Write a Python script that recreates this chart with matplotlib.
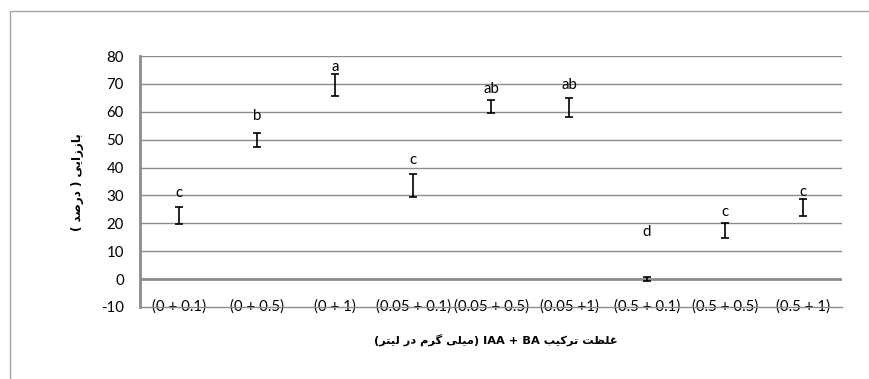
import re
import numpy as np
import matplotlib
matplotlib.use("Agg")
import matplotlib.pyplot as plt
from matplotlib.patches import Rectangle

# Treatments: IAA + BA concentration (mg/l)
treatments = ["(0 + 0.1)", "(0 + 0.5)", "(0 + 1)", "(0.05 + 0.1)", "(0.05 + 0.5)",
              "(0.05 +1)", "(0.5 + 0.1)", "(0.5 + 0.5)", "(0.5 + 1)"]
# Regeneration (%) mean and standard error
regen_mean = [22.8, 49.9, 69.6, 33.6, 61.9, 61.7, 0.1, 17.5, 25.7]
regen_err = [2.9, 2.5, 3.8, 4.2, 2.4, 3.4, 0.7, 2.6, 3.0]
# Duncan groups and where they were placed
groups = ["c", "b", "a", "c", "ab", "ab", "d", "c", "c"]
group_y = [31.0, 58.6, 76.2, 42.8, 68.2, 69.6, 17.0, 23.9, 31.4]

yticks = list(range(-10, 81, 10))

# contextual forms: isolated, final, initial, medial
FORMS = {
    "ا": ("\uFE8D", "\uFE8E", "\uFE8D", "\uFE8E"),
    "ب": ("\uFE8F", "\uFE90", "\uFE91", "\uFE92"),
    "ت": ("\uFE95", "\uFE96", "\uFE97", "\uFE98"),
    "د": ("\uFEA9", "\uFEAA", "\uFEA9", "\uFEAA"),
    "ر": ("\uFEAD", "\uFEAE", "\uFEAD", "\uFEAE"),
    "ز": ("\uFEAF", "\uFEB0", "\uFEAF", "\uFEB0"),
    "ص": ("\uFEB9", "\uFEBA", "\uFEBB", "\uFEBC"),
    "ظ": ("\uFEC5", "\uFEC6", "\uFEC7", "\uFEC8"),
    "غ": ("\uFECD", "\uFECE", "\uFECF", "\uFED0"),
    "ل": ("\uFEDD", "\uFEDE", "\uFEDF", "\uFEE0"),
    "م": ("\uFEE1", "\uFEE2", "\uFEE3", "\uFEE4"),
    "ی": ("\uFBFC", "\uFBFD", "\uFBFE", "\uFBFF"),
    "ک": ("\uFB8E", "\uFB8F", "\uFB90", "\uFB91"),
    "گ": ("\uFB92", "\uFB93", "\uFB94", "\uFB95"),
}
RIGHT_ONLY = set("ادرز")


def fa(text):
    # matplotlib has no text shaping, so join letters and lay them out right to left
    out = []
    for i, ch in enumerate(text):
        if ch not in FORMS:
            out.append(ch)
            continue
        prev = text[i - 1] if i > 0 else ""
        nxt = text[i + 1] if i + 1 < len(text) else ""
        jp = prev in FORMS and prev not in RIGHT_ONLY
        jn = nxt in FORMS and ch not in RIGHT_ONLY
        f = FORMS[ch]
        out.append(f[3] if jp and jn else f[1] if jp else f[2] if jn else f[0])
    s = "".join(out)[::-1]
    s = re.sub(r"[A-Za-z][A-Za-z +]*[A-Za-z]", lambda m: m.group(0)[::-1], s)
    return s.translate(str.maketrans("()", ")("))


ylabel = fa("باززایی ( درصد )")
xlabel = fa("غلظت ترکیب IAA + BA (میلی گرم در لیتر)")

plt.rcParams["font.family"] = ["Lato", "DejaVu Sans"]

fig = plt.figure(figsize=(8.69, 3.79), dpi=100)
fig.patches.append(Rectangle((10 / 869, -0.1), 1.2, 1 - 11 / 379 + 0.1,
                             transform=fig.transFigure, fill=False,
                             edgecolor="#a6a6a6", linewidth=1.0))
ax = fig.add_axes([140 / 869, 1 - 307 / 379, 702 / 869, 251 / 379])

x = np.arange(len(treatments))
ax.errorbar(x, regen_mean, yerr=regen_err, fmt="none", ecolor="black",
            elinewidth=1.2, capsize=2.6, capthick=1.2)
for xi, g, gy in zip(x, groups, group_y):
    ax.text(xi, gy, g, ha="center", va="center", fontsize=10.8)

ax.set_xlim(-0.5, len(treatments) - 0.5)
ax.set_ylim(-10, 80)
ax.set_yticks(yticks)
ax.set_yticklabels([str(t) for t in yticks], fontsize=10.8)
ax.set_xticks(x)
ax.set_xticklabels(treatments, fontsize=10.8)
for lab in ax.get_xticklabels():
    lab.set_va("center")
ax.tick_params(axis="x", length=0, pad=0)
ax.tick_params(axis="y", length=0, pad=11.5)

for t in yticks[2:]:
    ax.axhline(t, color="#8c8c8c", linewidth=1.0, zorder=0)
ax.axhline(0, color="#8c8c8c", linewidth=2.0, zorder=0)

for side in ["top", "right"]:
    ax.spines[side].set_visible(False)
ax.spines["bottom"].set_color("#8c8c8c")
ax.spines["bottom"].set_linewidth(1.0)
ax.spines["left"].set_color("#8c8c8c")
ax.spines["left"].set_linewidth(2.0)

fig.text(496 / 869, 1 - 340 / 379, xlabel, ha="center", va="center",
         fontsize=8.2, fontweight="bold", family=["DejaVu Sans"])
fig.text(77 / 869, 1 - 182 / 379, ylabel, ha="center", va="center",
         rotation=90, fontsize=8.6, fontweight="bold", family=["DejaVu Sans"])

fig.savefig("out.png", dpi=100)
